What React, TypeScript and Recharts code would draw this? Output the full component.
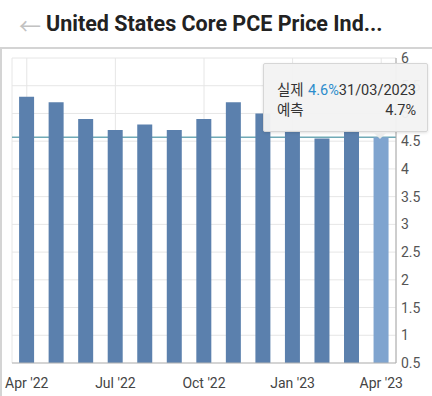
import { BarChart, Bar, XAxis, YAxis, CartesianGrid, Tooltip, Cell } from "recharts";

const months = [
  "Apr '22", "May '22", "Jun '22", "Jul '22", "Aug '22", "Sep '22", "Oct '22",
  "Nov '22", "Dec '22", "Jan '23", "Feb '23", "Mar '23", "Apr '23",
];
const actual = [5.3, 5.2, 4.9, 4.7, 4.8, 4.7, 4.9, 5.2, 5.0, 4.7, 4.55, 4.7, 4.57];
const yTicks = [0.5, 1, 1.5, 2, 2.5, 3, 3.5, 4, 4.5, 5, 5.5, 6];
const latestValue = 4.57;
const latestDate = "31/03/2023";
const latestForecast = 4.7;

const BAR = "#5b80ad";
const BAR_ACTIVE = "#7fa4cf";

const data = months.map((m, i) => ({ month: m, value: actual[i] }));

function TipBox({ active }: any) {
  if (!active) return null;
  return (
    <div style={{ position: "relative" }}>
      <div
        style={{
          width: 139,
          padding: "17px 11px 10px 13px",
          background: "rgba(243,243,243,0.96)",
          border: "1px solid #d6d6d6",
          borderRadius: 2,
          fontSize: 14.5,
          color: "#333",
          lineHeight: "20px",
          boxShadow: "0 1px 3px rgba(0,0,0,0.12)",
        }}
      >
        <div style={{ display: "flex", justifyContent: "space-between" }}>
          <span>실제</span>
          <span>
            <span style={{ color: "#2b8ccc" }}>{latestValue.toFixed(1)}%</span>
            {latestDate}
          </span>
        </div>
        <div style={{ display: "flex", justifyContent: "space-between" }}>
          <span>예측</span>
          <span>{latestForecast}%</span>
        </div>
      </div>
      <div
        style={{
          position: "absolute",
          left: 110,
          bottom: -7,
          width: 0,
          height: 0,
          borderLeft: "7px solid transparent",
          borderRight: "7px solid transparent",
          borderTop: "7px solid rgba(235,235,235,0.96)",
        }}
      />
    </div>
  );
}

export default function App() {
  return (
    <div
      style={{
        position: "fixed",
        left: 0,
        top: 0,
        width: 432,
        height: 396,
        background: "#fff",
        fontFamily: "Roboto, 'Noto Sans CJK KR', sans-serif",
        overflow: "hidden",
      }}
    >
      <div style={{ height: 47, display: "flex", alignItems: "center" }}>
        <span style={{ marginLeft: 19, fontSize: 22, color: "#c2c2c2", width: 27 }}>←</span>
        <span style={{ fontSize: 21.5, fontWeight: 700, color: "#222" }}>United States Core PCE Price Ind...</span>
      </div>
      <div
        style={{
          position: "absolute",
          top: 47,
          left: 0,
          width: 432,
          height: 349,
          borderTop: "2px solid #d4d4d4",
          borderLeft: "2px solid #d4d4d4",
          boxSizing: "border-box",
        }}
      />
      <div style={{ position: "absolute", top: 47, left: 0 }}>
        <BarChart width={432} height={349} data={data} margin={{ top: 11, right: 0, bottom: 3, left: 12 }} barCategoryGap="24%">
          <CartesianGrid stroke="#e6e6e6" />
          {/* latest-value line, kept in the grid layer so bars sit on top */}
          <CartesianGrid vertical={false} horizontalValues={[latestValue]} stroke="#70aab6" strokeWidth={1.5} />
          <XAxis
            dataKey="month"
            interval={2}
            tickLine={false}
            axisLine={{ stroke: "#b5b5b5" }}
            tick={{ fontSize: 14, fill: "#444" }}
            tickMargin={9}
            height={30}
          />
          <YAxis
            orientation="right"
            domain={[0.5, 6]}
            ticks={yTicks}
            tickLine={false}
            axisLine={{ stroke: "#a8a8a8" }}
            tick={{ fontSize: 14, fill: "#555", textAnchor: "start" }}
            tickSize={4}
            tickMargin={1}
            width={36}
          />
          <YAxis yAxisId="l" orientation="left" width={0} tick={false} tickLine={false} axisLine={{ stroke: "#b0b0b0" }} domain={[0.5, 6]} />
          <Bar dataKey="value" isAnimationActive={false}>
            {data.map((_, i) => (
              <Cell key={i} fill={i === data.length - 1 ? BAR_ACTIVE : BAR} />
            ))}
          </Bar>
          <Tooltip
            defaultIndex={12}
            content={<TipBox />}
            cursor={false}
            isAnimationActive={false}
            position={{ x: 263, y: 16 }}
            wrapperStyle={{ outline: "none" }}
          />
        </BarChart>
      </div>
    </div>
  );
}
